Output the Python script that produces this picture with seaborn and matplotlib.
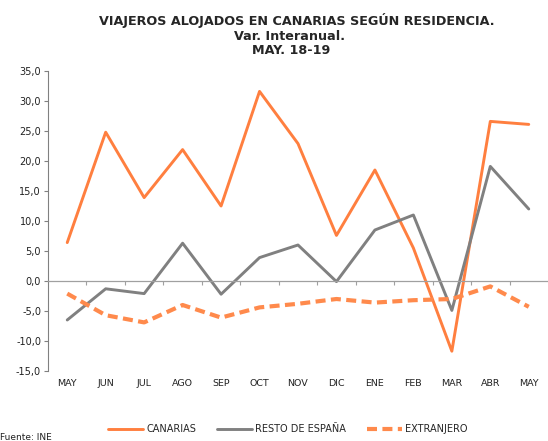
import pandas as pd
import matplotlib
matplotlib.use("Agg")
import matplotlib.pyplot as plt
import seaborn as sns
from matplotlib.ticker import FuncFormatter, FixedLocator

# data
meses = ['MAY', 'JUN', 'JUL', 'AGO', 'SEP', 'OCT', 'NOV', 'DIC', 'ENE', 'FEB', 'MAR', 'ABR', 'MAY']
canarias = [6.4, 24.8, 13.9, 21.9, 12.5, 31.6, 22.9, 7.6, 18.5, 5.5, -11.7, 26.6, 26.1]
resto_espana = [-6.5, -1.3, -2.1, 6.3, -2.2, 3.9, 6.0, -0.1, 8.5, 11.0, -4.9, 19.1, 12.0]
extranjero = [-2.1, -5.7, -6.9, -4.0, -6.1, -4.4, -3.8, -3.0, -3.6, -3.2, -3.0, -0.9, -4.3]

x = list(range(len(meses)))
df = pd.DataFrame({'x': x, 'CANARIAS': canarias, 'RESTO DE ESPAÑA': resto_espana,
                   'EXTRANJERO': extranjero})

sns.set_style('white')
plt.rcParams['font.family'] = ['DejaVu Sans']

fig = plt.figure(figsize=(5.48, 4.41), dpi=100)
ax = fig.add_axes([48 / 548, 70 / 441, 500 / 548, 300 / 441])

sns.lineplot(data=df, x='x', y='CANARIAS', ax=ax, color='#FF7F3F', lw=2.1, label='CANARIAS')
sns.lineplot(data=df, x='x', y='RESTO DE ESPAÑA', ax=ax, color='#808080', lw=2.1,
             label='RESTO DE ESPAÑA')
sns.lineplot(data=df, x='x', y='EXTRANJERO', ax=ax, color='#FF8A4C', lw=3.0,
             dashes=False, label='EXTRANJERO').lines[-1].set_dashes([2.4, 1.3])

ax.set_xlim(-0.5, 12.5)
ax.set_ylim(-15, 35)
ax.set_yticks(range(-15, 36, 5))
ax.yaxis.set_major_formatter(FuncFormatter(lambda v, p: f'{v:.1f}'.replace('.', ',')))
ax.tick_params(axis='y', direction='out', length=3, width=0.8, color='#808080',
               labelsize=7, labelcolor='#222222', pad=2, left=True)

# x axis line sits at zero, month labels go under the plot
for s in ['top', 'right']:
    ax.spines[s].set_visible(False)
ax.spines['left'].set_color('#808080')
ax.spines['left'].set_linewidth(0.8)
ax.spines['bottom'].set_position(('data', 0))
ax.spines['bottom'].set_color('#a0a0a0')
ax.spines['bottom'].set_linewidth(0.9)
ax.xaxis.set_major_locator(FixedLocator([i + 0.5 for i in x[:-1]]))
ax.tick_params(axis='x', direction='out', length=3, width=0.8, color='#a0a0a0',
               labelbottom=False, bottom=True)
ax.set_xlabel('')
ax.set_ylabel('')

sec = ax.secondary_xaxis('bottom')
sec.set_xticks(x)
sec.set_xticklabels(meses)
sec.tick_params(length=0, labelsize=6.8, labelcolor='#222222', pad=6)
sec.spines['bottom'].set_visible(False)

ax.get_legend().remove()
handles, labels = ax.get_legend_handles_labels()
fig.legend(handles, labels, loc='center', bbox_to_anchor=(288 / 548, 1 - 429 / 441),
           ncol=3, frameon=False, fontsize=7, handlelength=3.6, handletextpad=0.3,
           columnspacing=2.2)

fig.text(297 / 548, 1 - 20 / 441, 'VIAJEROS ALOJADOS EN CANARIAS SEGÚN RESIDENCIA.',
         ha='center', va='center', fontsize=9.2, fontweight='bold')
fig.text(289 / 548, 1 - 36 / 441, 'Var. Interanual.', ha='center', va='center',
         fontsize=9.2, fontweight='bold')
fig.text(291 / 548, 1 - 51 / 441, 'MAY. 18-19', ha='center', va='center',
         fontsize=9.2, fontweight='bold')
fig.text(0.0, 1 - 437 / 441, 'Fuente: INE', ha='left', va='center', fontsize=6.5,
         color='#222222')

fig.savefig('out.png', dpi=100)
